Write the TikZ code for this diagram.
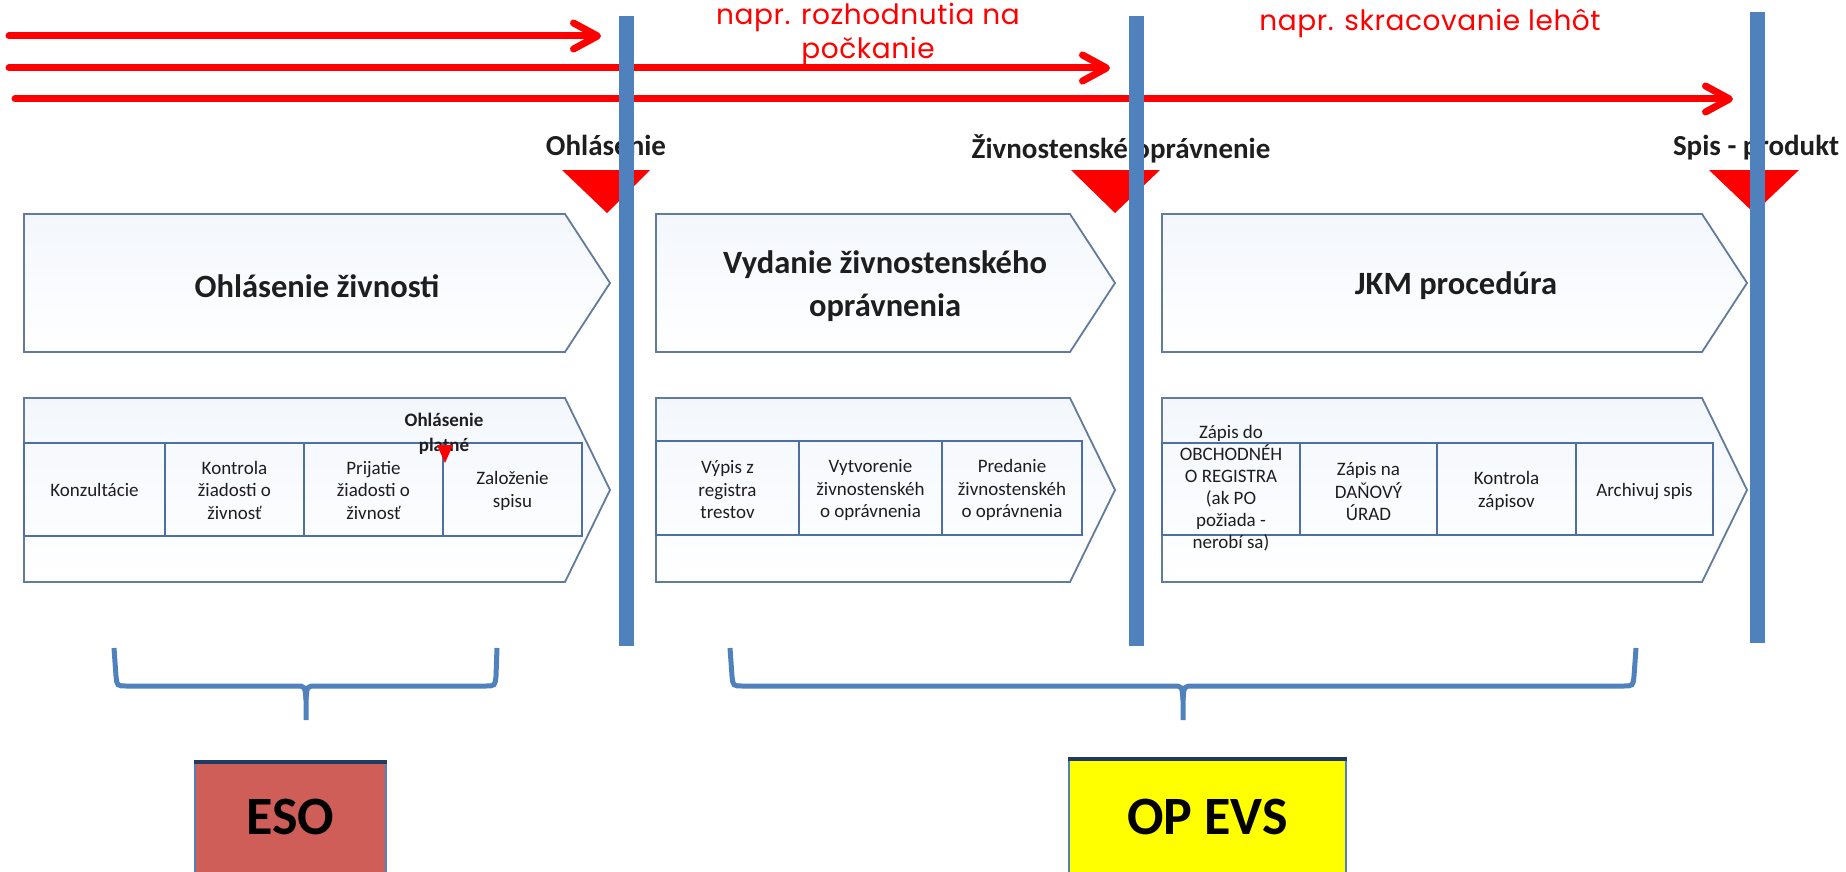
\documentclass[tikz,border=0pt]{standalone}
\usepackage{fontspec}
\setmainfont{Carlito}
\newfontfamily\gothic[LetterSpace=2]{Poppins}
\usetikzlibrary{arrows.meta}
\definecolor{redA}{HTML}{FF0000}
\definecolor{blueV}{HTML}{4F81BD}
\definecolor{chevC}{HTML}{627B9B}
\definecolor{bandC}{HTML}{4E6FA3}
\definecolor{esoC}{HTML}{CF5D58}
\definecolor{yelC}{HTML}{FFFF00}
\definecolor{navyC}{HTML}{1F3B63}
\definecolor{txtC}{HTML}{1E1E1E}
\definecolor{shadeC}{HTML}{F3F7FC}
\begin{document}
\begin{tikzpicture}[x=1pt,y=-1pt,
  redarrow/.style={draw=redA,line width=7pt,line cap=round,-{Straight Barb[length=24pt,width=26pt,round]}},
  vline/.style={draw=blueV,line width=15pt},
  chevron/.style={draw=chevC,line width=1.8pt,top color=shadeC,bottom color=white},
  band/.style={draw=bandC,line width=2.2pt},
  redtxt/.style={text=redA,font=\gothic\fontsize{28}{34}\selectfont,inner sep=0pt,align=center},
  mslabel/.style={font=\bfseries\fontsize{29}{34}\selectfont,inner sep=0pt,text=txtC},
  tri/.style={fill=redA},
  titletxt/.style={font=\bfseries\fontsize{32.5}{43}\selectfont,align=center,inner sep=0pt,text=txtC},
  steptxt/.style={font=\fontsize{19}{22.5}\selectfont,align=center,inner sep=0pt,text=txtC},
  bracec/.style={draw=blueV,line width=5pt},
  boxtxt/.style={font=\bfseries\fontsize{54}{60}\selectfont,text=black,inner sep=0pt,minimum height=0pt}
]
\useasboundingbox (0,0) rectangle (1846,872);
\clip (0,0) rectangle (1846,872);

% red arrows
\coordinate (a1s) at (9,36);   \coordinate (a1e) at (601,36);
\coordinate (a2s) at (9,68);   \coordinate (a2e) at (1110,68);
\coordinate (a3s) at (15,99);  \coordinate (a3e) at (1733,99);
\draw[redarrow] (a1s) -- (a1e);
\draw[redarrow] (a2s) -- (a2e);
\draw[redarrow] (a3s) -- (a3e);

% red notes
\node[redtxt,anchor=north] (n1) at (868,3) {napr. rozhodnutia na\\počkanie};
\node[redtxt,anchor=base] (n2) at (1430,31) {napr. skracovanie lehôt};

% milestone labels and triangles
\node[mslabel,anchor=base] (ms1) at (606,155) {Ohlásenie};
\node[mslabel,anchor=base] (ms2) at (1121,158) {Živnostenské oprávnenie};
\node[mslabel,anchor=base] (ms3) at (1756,155) {Spis - produkt};
\fill[tri] (562,170) -- (650,170) -- (607,213) -- cycle;
\fill[tri] (1071,170) -- (1160,170) -- (1115,213) -- cycle;
\fill[tri] (1709,170) -- (1799,170) -- (1754,213) -- cycle;

% top chevrons
\draw[chevron] (24,214) -- (565,214) -- (610,283) -- (565,352) -- (24,352) -- cycle;
\draw[chevron] (656,214) -- (1070,214) -- (1115,283) -- (1070,352) -- (656,352) -- cycle;
\draw[chevron] (1162,214) -- (1702,214) -- (1747,283) -- (1702,352) -- (1162,352) -- cycle;
\node[titletxt] (c1) at (317,286) {Ohlásenie živnosti};
\node[titletxt] (c2) at (885,286) {Vydanie živnostenského\\oprávnenia};
\node[titletxt] (c3) at (1456,286) {JKM procedúra};

% second-row chevrons
\draw[chevron] (24,398) -- (565,398) -- (610,490) -- (565,582) -- (24,582) -- cycle;
\draw[chevron] (656,398) -- (1070,398) -- (1115,490) -- (1070,582) -- (656,582) -- cycle;
\draw[chevron] (1162,398) -- (1702,398) -- (1747,490) -- (1702,582) -- (1162,582) -- cycle;

% bands
\draw[band] (24,443) rectangle (582,536);
\draw[band] (165,443) -- (165,536) (304,443) -- (304,536) (443,443) -- (443,536);
\draw[band] (656,441) rectangle (1082,535);
\draw[band] (799,441) -- (799,535) (942,441) -- (942,535);
\draw[band] (1162,443) rectangle (1713,535);
\draw[band] (1300,443) -- (1300,535) (1437,443) -- (1437,535) (1576,443) -- (1576,535);

% step texts
\node[steptxt] (s11) at (94.5,490) {Konzultácie};
\node[steptxt] (s12) at (234.5,490) {Kontrola\\žiadosti o\\živnosť};
\node[steptxt] (s13) at (373.5,490) {Prijatie\\žiadosti o\\živnosť};
\node[steptxt] (s14) at (512.5,491) {Založenie\\spisu};
\node[steptxt] (s21) at (727.5,490) {Výpis z\\registra\\trestov};
\node[steptxt] (s22) at (870.5,490) {Vytvorenie\\živnostenskéh\\o oprávnenia};
\node[steptxt] (s23) at (1012,490) {Predanie\\živnostenskéh\\o oprávnenia};
\node[steptxt,font=\fontsize{19}{22}\selectfont] (s31) at (1231,488) {Zápis do\\OBCHODNÉH\\O REGISTRA\\(ak PO\\požiada -\\nerobí sa)};
\node[steptxt] (s32) at (1368.5,492) {Zápis na\\DAŇOVÝ\\ÚRAD};
\node[steptxt] (s33) at (1506.5,491) {Kontrola\\zápisov};
\node[steptxt] (s34) at (1644.5,492) {Archivuj spis};

% small milestone
\node[steptxt,font=\bfseries\fontsize{19}{25}\selectfont] (ms0) at (444,434) {Ohlásenie\\platné};
\fill[tri] (437,445) -- (453,445) -- (445,463) -- cycle;

% blue phase lines
\coordinate (v1t) at (626,16);  \coordinate (v1b) at (626,646);
\coordinate (v2t) at (1136,16); \coordinate (v2b) at (1136,646);
\coordinate (v3t) at (1757,12); \coordinate (v3b) at (1757,643);
\draw[vline] (v1t) -- (v1b);
\draw[vline] (v2t) -- (v2b);
\draw[vline] (v3t) -- (v3b);

% braces
\draw[bracec] (114,648) -- (116,676) .. controls (117,686) .. (127,686) -- (296,686)
  .. controls (305,686) .. (306,700) -- (306,720);
\draw[bracec] (306,700) .. controls (307,686) .. (316,686) -- (485,686)
  .. controls (495,686) .. (496,676) -- (497,648);
\draw[bracec] (730,648) -- (732,676) .. controls (733,686) .. (743,686) -- (1173,686)
  .. controls (1182,686) .. (1183,700) -- (1183,720);
\draw[bracec] (1183,700) .. controls (1184,686) .. (1193,686) -- (1623,686)
  .. controls (1633,686) .. (1634,676) -- (1636,648);

% boxes
\node[draw=blueV,line width=1.5pt,fill=esoC,minimum width=191pt,minimum height=112pt,inner sep=0pt] (eso) at (290.5,819) {};
\draw[navyC,line width=4pt] (eso.north west) -- (eso.north east);
\node[boxtxt] (esot) at (290.5,817) {ESO};
\node[draw=blueV,line width=1.5pt,fill=yelC,minimum width=277pt,minimum height=115pt,inner sep=0pt] (op) at (1207.5,817.5) {};
\draw[navyC,line width=4pt] (op.north west) -- (op.north east);
\node[boxtxt] (opt) at (1207.5,817) {OP EVS};
\end{tikzpicture}
\end{document}
